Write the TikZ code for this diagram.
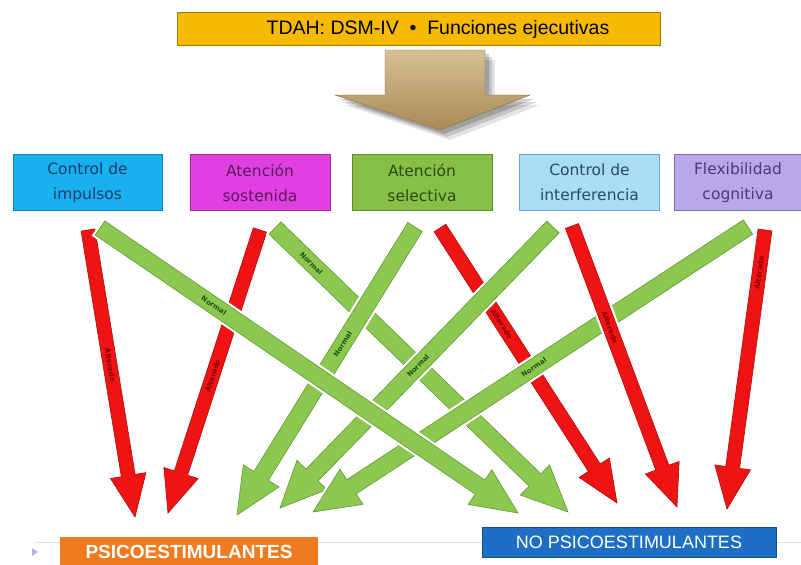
\documentclass[tikz,border=0pt]{standalone}
\usepackage{fontspec}
\setmainfont{Liberation Sans}
\newfontfamily\boxfont{DejaVu Sans}
\usetikzlibrary{calc}

\definecolor{titlefill}{HTML}{F7BA00}
\definecolor{titleedge}{HTML}{9C7A10}
\definecolor{cyanfill}{HTML}{18B0EE}
\definecolor{cyanedge}{HTML}{1582B5}
\definecolor{cyantext}{HTML}{1E3C6E}
\definecolor{magfill}{HTML}{E040E2}
\definecolor{magedge}{HTML}{9A2A9A}
\definecolor{magtext}{HTML}{5A1A5A}
\definecolor{selfill}{HTML}{86C046}
\definecolor{seledge}{HTML}{5A8A2A}
\definecolor{seltext}{HTML}{2C4A14}
\definecolor{ltbfill}{HTML}{A8DDF5}
\definecolor{ltbedge}{HTML}{6AA6CC}
\definecolor{ltbtext}{HTML}{2A4A60}
\definecolor{lavfill}{HTML}{B8A8E8}
\definecolor{lavedge}{HTML}{7E6EB0}
\definecolor{lavtext}{HTML}{4A3A78}
\definecolor{gfill}{HTML}{8CC850}
\definecolor{gedge}{HTML}{5E9A30}
\definecolor{gtext}{HTML}{24500C}
\definecolor{rfill}{HTML}{EE1414}
\definecolor{redge}{HTML}{B00A0A}
\definecolor{rtext}{HTML}{8A0000}
\definecolor{orfill}{HTML}{F07A1E}
\definecolor{blfill}{HTML}{1C6FC4}
\definecolor{tanfill}{HTML}{CDB07A}
\definecolor{tandark}{HTML}{A88A55}

\tikzset{
  fbox/.style={draw, line width=0.8pt, minimum width=140pt, minimum height=56pt,
    inner sep=0pt, align=center, font=\boxfont\fontsize{15.5}{25}\selectfont},
  arrlabel/.style={font=\boxfont\bfseries\fontsize{7}{8}\selectfont, inner sep=0pt},
}

% #1 start, #2 end, #3 colour prefix, #4 half shaft, #5 half head, #6 head length, #7 label, #8 label pos
\newcommand\barrow[8]{%
  \coordinate (#1-hb) at ($(#2)!#6!(#1)$);
  \filldraw[fill=#3fill, draw=#3edge, line width=0.6pt, line join=miter,
    preaction={draw=white, line width=5pt}]
    ($(#1)!#4!90:(#2)$) -- ($(#1-hb)!#4!90:(#2)$) -- ($(#1-hb)!#5!90:(#2)$) -- (#2)
    -- ($(#1-hb)!#5!-90:(#2)$) -- ($(#1-hb)!#4!-90:(#2)$) -- ($(#1)!#4!-90:(#2)$) -- cycle;
  \path (#1) -- (#1-hb) node[pos=#8, sloped, arrlabel, text=#3text] (#1-lbl) {#7};
}

\begin{document}
\begin{tikzpicture}[x=1pt, y=-1pt]
\useasboundingbox (0,0) rectangle (801,565);
\fill[white] (0,0) rectangle (801,565);

% title
\node[draw=titleedge, fill=titlefill, line width=0.8pt, minimum width=483pt, minimum height=33pt, inner sep=0pt] (title) at (418.5,28.5) {};
\node[font=\fontsize{19.5}{20}\selectfont] (titletext) at (438,29) {TDAH: DSM-IV \ \textbullet\ \ Funciones ejecutivas};

% big arrow with shadow
\foreach \o/\a in {10/0.10, 7/0.14, 4/0.18}{
  \fill[black, opacity=\a] (385+\o,50+\o) -- (485+\o,50+\o) -- (485+\o,95+\o) -- (530+\o,95+\o) -- (440+\o,130+\o) -- (335+\o,95+\o) -- (385+\o,95+\o) -- cycle;
}
\shade[top color=tanfill!80!white, bottom color=tandark, draw=tandark!80!black, line width=0.4pt]
  (385,50) -- (485,50) -- (485,95) -- (530,95) -- (440,130) -- (335,95) -- (385,95) -- cycle;
\coordinate (bigtip) at (440,130);

% function boxes
\node[fbox, draw=cyanedge, fill=cyanfill, text=cyantext, minimum width=149pt] (b1) at (87.5,182.5) {Control de\\impulsos};
\node[fbox, draw=magedge, fill=magfill, text=magtext] (b2) at (260,182.5) {Atención\\sostenida};
\node[fbox, draw=seledge, fill=selfill, text=seltext] (b3) at (422,182.5) {Atención\\selectiva};
\node[fbox, draw=ltbedge, fill=ltbfill, text=ltbtext] (b4) at (589.5,182.5) {Control de\\interferencia};
\node[fbox, draw=lavedge, fill=lavfill, text=lavtext, minimum width=128pt] (b5) at (738,182.5) {Flexibilidad\\cognitiva};

% arrow end points
\coordinate (r1s) at (88,230);  \coordinate (r1e) at (135,517);
\coordinate (r2s) at (260,230); \coordinate (r2e) at (168,513);
\coordinate (r3s) at (440,228); \coordinate (r3e) at (617,503);
\coordinate (r4s) at (572,226); \coordinate (r4e) at (677,507);
\coordinate (r5s) at (765,230); \coordinate (r5e) at (727,509);
\coordinate (gas) at (100,228); \coordinate (gae) at (518,513);
\coordinate (gbs) at (275,228); \coordinate (gbe) at (568,512);
\coordinate (gcs) at (415,227); \coordinate (gce) at (237,515);
\coordinate (gds) at (553,227); \coordinate (gde) at (280,508);
\coordinate (ges) at (748,227); \coordinate (gee) at (313,512);

% arrows (order gives the crossings)
\barrow{r1s}{r1e}{r}{7pt}{18pt}{42pt}{Alterado}{0.55}
\barrow{r2s}{r2e}{r}{7pt}{18pt}{42pt}{Alterado}{0.6}
\barrow{r3s}{r3e}{r}{7pt}{18pt}{42pt}{Alterado}{0.4}
\barrow{r5s}{r5e}{r}{7pt}{18pt}{42pt}{Alterado}{0.18}
\barrow{gbs}{gbe}{g}{8.5pt}{21pt}{46pt}{Normal}{0.14}
\barrow{gcs}{gce}{g}{8.5pt}{21pt}{46pt}{Normal}{0.47}
\barrow{gds}{gde}{g}{8.5pt}{21pt}{46pt}{Normal}{0.56}
\barrow{ges}{gee}{g}{8.5pt}{21pt}{46pt}{Normal}{0.54}
\barrow{gas}{gae}{g}{8.5pt}{21pt}{46pt}{Normal}{0.3}
\barrow{r4s}{r4e}{r}{7pt}{18pt}{42pt}{Alterado}{0.42}

% bottom
\coordinate (lineL) at (35,542); \coordinate (lineR) at (801,542);
\draw[black!12, line width=1pt] (lineL) -- (lineR);
\fill[black!35!blue!30!white] (32,548) -- (38,552) -- (32,556) -- cycle;
\node[fill=orfill, minimum width=258pt, minimum height=30pt, inner sep=0pt, text=white,
  font=\bfseries\fontsize{19}{20}\selectfont] (psico) at (189,552) {PSICOESTIMULANTES};
\node[fill=blfill, draw=blfill!70!black, line width=0.5pt, minimum width=294pt, minimum height=30pt, inner sep=0pt, text=white,
  font=\fontsize{18}{20}\selectfont] (nopsico) at (629,542) {NO PSICOESTIMULANTES};
\end{tikzpicture}
\end{document}
